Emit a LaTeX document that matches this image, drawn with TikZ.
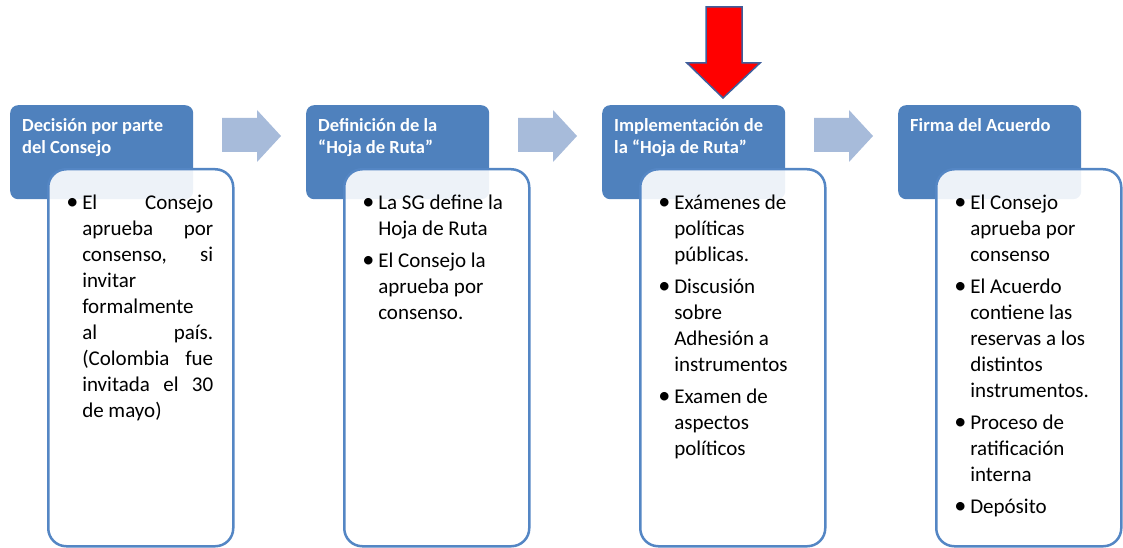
\documentclass[tikz,border=0pt]{standalone}
\usepackage{fontspec}
\setmainfont{Carlito}
\definecolor{hdr}{RGB}{79,129,189}
\definecolor{bdr}{RGB}{84,134,196}
\definecolor{chevc}{RGB}{167,187,218}
\definecolor{rededge}{RGB}{62,94,156}
\newcommand\bitem{\par\hangindent=14pt\hangafter=1\noindent\makebox[14pt][l]{\kern-2pt\scalebox{1.15}{•}}}
\newcommand\hdrtext[1]{\parbox[t][68pt][t]{159pt}{\fontsize{18.5}{22.5}\selectfont\bfseries #1}}
\newcommand\bodytext[1]{\parbox[t][325pt][t]{145pt}{\fontsize{21}{26}\selectfont\parskip=6pt #1}}
\tikzset{
  header/.style={rounded corners=8pt, fill=hdr, draw=none, anchor=north west,
    inner xsep=12pt, inner ysep=13pt, text=white},
  bodybox/.style={rounded corners=18pt, fill=white, fill opacity=0.9, text opacity=1,
    draw=bdr, line width=2.5pt, anchor=north west, inner xsep=20pt, inner ysep=26pt, text=black},
  chev/.style={fill=chevc, draw=none},
  redarrow/.style={fill=red, draw=rededge, line width=1.5pt, line join=miter}
}
\begin{document}
\begin{tikzpicture}[x=1pt,y=-1pt]
\useasboundingbox (0,0) rectangle (1123,548);
% chevron arrows
\foreach \dx in {0,296,592}
  \fill[chev] (222+\dx,118) -- (257+\dx,118) -- (257+\dx,110) -- (281+\dx,136)
    -- (257+\dx,162) -- (257+\dx,152) -- (222+\dx,152) -- cycle;
% red arrow
\draw[redarrow] (706,7) -- (742,7) -- (742,63) -- (760,63) -- (723,98) -- (687,63) -- (706,63) -- cycle;
% headers
\node[header] (h1) at (10,105) {\hdrtext{Decisión por parte\\del Consejo}};
\node[header] (h2) at (306,105) {\hdrtext{Definición de la\\“Hoja de Ruta”}};
\node[header] (h3) at (602,105) {\hdrtext{Implementación de\\la “Hoja de Ruta”}};
\node[header] (h4) at (898,105) {\hdrtext{Firma del Acuerdo}};
% body boxes
\node[bodybox] (b1) at (47,168) {\bodytext{%
  \bitem El \hfill Consejo\\
  aprueba \hfill por\\
  consenso, \hfill si\\
  invitar\\
  formalmente\\
  al \hfill país.\\
  (Colombia \hfill fue\\
  invitada \hfill el \hfill 30\\
  de mayo)\par}};
\node[bodybox] (b2) at (343,168) {\bodytext{%
  \bitem La SG define la\\
  Hoja de Ruta
  \bitem El Consejo la\\
  aprueba por\\
  consenso.\par}};
\node[bodybox] (b3) at (639,168) {\bodytext{%
  \bitem Exámenes de\\
  políticas\\
  públicas.
  \bitem Discusión\\
  sobre\\
  Adhesión a\\
  instrumentos
  \bitem Examen de\\
  aspectos\\
  políticos\par}};
\node[bodybox] (b4) at (935,168) {\bodytext{%
  \bitem El Consejo\\
  aprueba por\\
  consenso
  \bitem El Acuerdo\\
  contiene las\\
  reservas a los\\
  distintos\\
  instrumentos.
  \bitem Proceso de\\
  ratificación\\
  interna
  \bitem Depósito\par}};
\end{tikzpicture}
\end{document}
